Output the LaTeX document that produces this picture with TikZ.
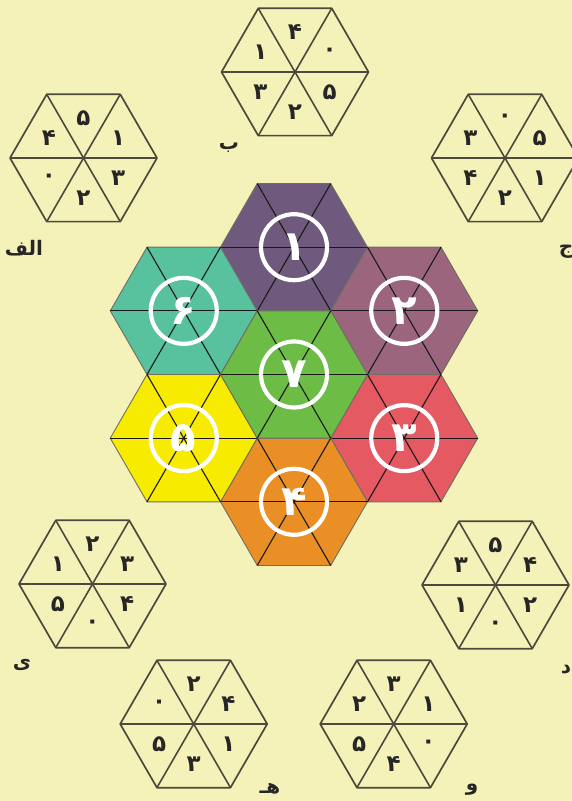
\documentclass[tikz,border=0pt]{standalone}
\usepackage{fontspec}
\usetikzlibrary{shapes.geometric,calc,positioning}
\TeXXeTstate=1
\newfontfamily\fafont[Script=Arabic]{DejaVu Sans}
\definecolor{paper}{HTML}{F5F2B9}
\definecolor{ink}{HTML}{4B4A3C}
\definecolor{plum}{HTML}{6F5A7E}
\definecolor{mauve}{HTML}{9B657E}
\definecolor{coral}{HTML}{E45962}
\definecolor{amber}{HTML}{E98F26}
\definecolor{lemon}{HTML}{F7EB00}
\definecolor{sea}{HTML}{58C19E}
\definecolor{leaf}{HTML}{6CBC46}

\begin{document}
\begin{tikzpicture}[x=1pt,y=1pt,
  hexcell/.style={regular polygon,regular polygon sides=6,minimum size=147pt,inner sep=0pt,outer sep=0pt},
  tile/.style={hexcell,draw=ink,line width=1.7pt,line join=round},
  piece/.style={hexcell,draw=ink!80,line width=.9pt},
  digit/.style={font=\fafont\bfseries\fontsize{23}{23}\selectfont,text=black!85,inner sep=0pt},
  bignum/.style={font=\fafont\bfseries\fontsize{42}{42}\selectfont,text=white,inner sep=0pt},
  tag/.style={font=\fafont\bfseries\fontsize{20}{20}\selectfont,text=black!85,inner sep=0pt}]
  \fill[paper] (0,0) rectangle (572,801);
  \useasboundingbox (0,0) rectangle (572,801);
  % seven coloured pieces
  \foreach \n/\c/\pos/\d in {1/plum/{294,553.8}/۱,2/mauve/{404.25,490.15}/۲,3/coral/{404.25,362.85}/۳,4/amber/{294,299.2}/۴,5/lemon/{183.75,362.85}/۵,6/sea/{183.75,490.15}/۶,7/leaf/{294,426.5}/۷}{
    \node[piece,fill=\c] (c\n) at (\pos) {};
    \foreach \i/\j in {1/4,2/5,3/6} \draw[black!90,line width=1.1pt] (c\n.corner \i) -- (c\n.corner \j);
    \draw[white,line width=4.2pt] (c\n.center) circle (33);
    \node[bignum] (n\n) at (c\n) {\d};
  }
  % answer tiles
  \foreach \h/\pos/\ds in {alef/{83.5,643}/{۵,۱,۳,۲,۰,۴},be/{295,729}/{۴,۰,۵,۲,۳,۱},jim/{505,643}/{۰,۵,۱,۲,۴,۳},dal/{495.5,216}/{۵,۴,۲,۰,۱,۳},vav/{393.7,77}/{۳,۱,۰,۴,۵,۲},he/{193.7,77}/{۲,۴,۱,۳,۵,۰},ye/{92.5,217}/{۲,۳,۴,۰,۵,۱}}{
    \node[tile] (\h) at (\pos) {};
    \foreach \i/\j in {1/4,2/5,3/6} \draw[ink,line width=1.6pt] (\h.corner \i) -- (\h.corner \j);
    \foreach \d [count=\k] in \ds \node[digit] (\h-\k) at ($(\h)+({150-60*\k}:40)$) {\d};
  }
  \node[tag] (alef-l) at (24,553) {\beginR الف\endR};
  \node[tag] (be-l) at (229,653) {ب};
  \node[tag] (jim-l) at (566,549) {ج};
  \node[tag] (dal-l) at (566,131) {د};
  \node[tag] (vav-l) at (472,11) {و};
  \node[tag] (he-l) at (270,12) {\beginR هـ\endR};
  \node[tag] (ye-l) at (22,136) {ی};
\end{tikzpicture}
\end{document}
